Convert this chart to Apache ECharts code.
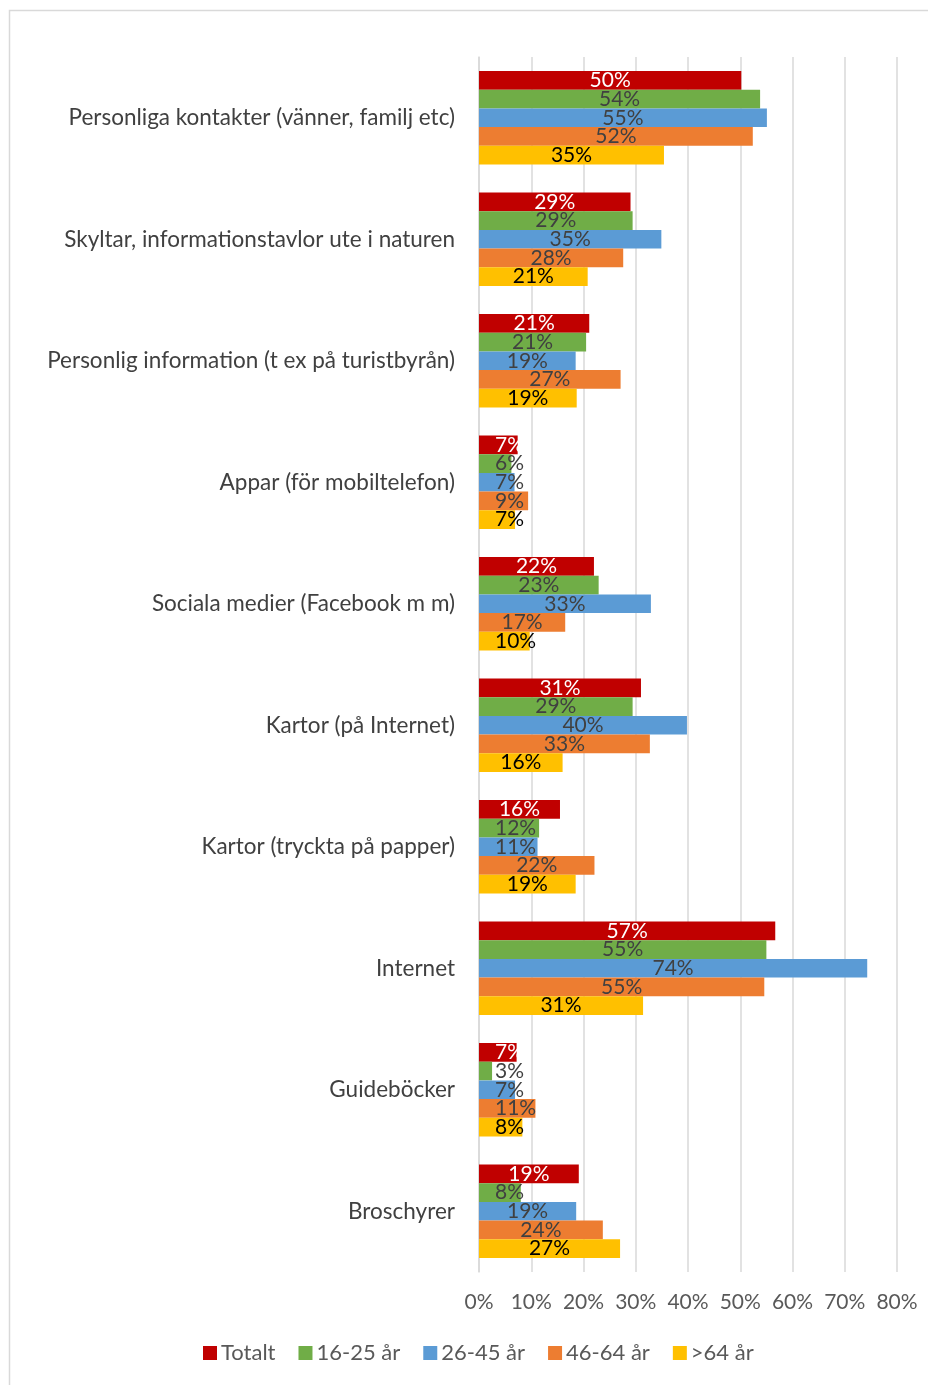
<!DOCTYPE html>
<html>
<head>
<meta charset="utf-8">
<script src="https://cdn.jsdelivr.net/npm/echarts@6/dist/echarts.min.js"></script>
<style>
html,body{margin:0;padding:0;background:#fff;}
#chart{width:928px;height:1385px;}
</style>
</head>
<body>
<div id="chart"></div>
<script>
const categories = [
  'Personliga kontakter (vänner, familj etc)',
  'Skyltar, informationstavlor ute i naturen',
  'Personlig information (t ex på turistbyrån)',
  'Appar (för mobiltelefon)',
  'Sociala medier (Facebook m m)',
  'Kartor (på Internet)',
  'Kartor (tryckta på papper)',
  'Internet',
  'Guideböcker',
  'Broschyrer'
];
const seriesNames = ['Totalt', '16-25 år', '26-45 år', '46-64 år', '>64 år'];
const totalt   = [50.2, 29.0, 21.1, 7.4, 22.0, 31.0, 15.5, 56.7, 7.2, 19.1];
const age16_25 = [53.8, 29.4, 20.5, 6.2, 22.9, 29.4, 11.5, 55.0, 2.5, 8.0];
const age26_45 = [55.1, 34.9, 18.5, 6.8, 32.9, 39.8, 11.2, 74.3, 6.9, 18.6];
const age46_64 = [52.4, 27.6, 27.1, 9.4, 16.5, 32.7, 22.1, 54.6, 10.8, 23.7];
const age64up  = [35.4, 20.8, 18.7, 6.9, 9.7, 16.0, 18.5, 31.4, 8.3, 27.0];
const tickValues = [0, 10, 20, 30, 40, 50, 60, 70, 80];

const seriesValues = [totalt, age16_25, age26_45, age46_64, age64up];
const colors = ['#C00000', '#70AD47', '#5B9BD5', '#ED7D31', '#FFC000'];
const labelColors = ['#FFFFFF', '#404040', '#404040', '#404040', '#000000'];
const FONT = 'Lato';

const chart = echarts.init(document.getElementById('chart'), null, {renderer: 'canvas'});

const series = seriesValues.map((vals, i) => ({
  name: seriesNames[i],
  type: 'bar',
  barGap: '0%',
  barCategoryGap: '23%',
  itemStyle: {color: colors[i]},
  label: {
    show: true,
    position: 'inside',
    color: labelColors[i],
    fontFamily: FONT,
    fontSize: 21,
    formatter: p => Math.round(p.value) + '%'
  },
  data: vals.map(v => v < 14
    ? {value: v, label: {position: 'insideLeft', distance: 16}}
    : {value: v})
}));

chart.setOption({
  animation: false,
  backgroundColor: '#fff',
  textStyle: {fontFamily: FONT},
  graphic: [{
    type: 'rect',
    shape: {x: 9.5, y: 10.5, width: 940, height: 1400},
    style: {fill: 'none', stroke: '#D9D9D9', lineWidth: 1.5},
    silent: true
  }],
  color: colors,
  legend: {
    bottom: 16,
    left: 198,
    itemWidth: 14,
    itemHeight: 14,
    itemGap: 23,
    icon: 'rect',
    textStyle: {fontFamily: FONT, fontSize: 22, color: '#595959', padding: [0, 0, 0, -1]},
    data: seriesNames
  },
  grid: {left: 479, right: 31, top: 57, bottom: 113, containLabel: false},
  xAxis: {
    type: 'value',
    min: 0,
    max: 80,
    interval: 10,
    axisLine: {show: false},
    axisTick: {show: false},
    splitLine: {show: true, lineStyle: {color: '#D9D9D9', width: 1.5}},
    axisLabel: {
      fontFamily: FONT, fontSize: 21, color: '#595959', margin: 20,
      formatter: v => tickValues.includes(v) ? v + '%' : ''
    }
  },
  yAxis: {
    type: 'category',
    inverse: true,
    data: categories,
    axisLine: {show: true, lineStyle: {color: '#D9D9D9', width: 1.5}},
    axisTick: {show: false},
    axisLabel: {fontFamily: FONT, fontSize: 22.5, color: '#404040', margin: 24}
  },
  series: series
});
</script>
</body>
</html>
